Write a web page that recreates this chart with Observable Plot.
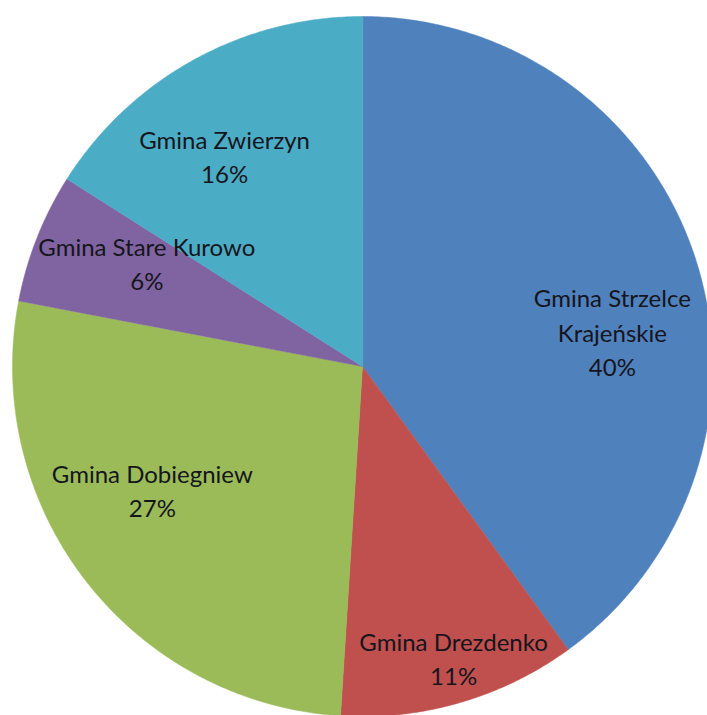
<!DOCTYPE html>
<html>
<head>
<meta charset="utf-8">
<script src="https://cdn.jsdelivr.net/npm/d3@7"></script>
<script src="https://cdn.jsdelivr.net/npm/@observablehq/plot@0.6"></script>
<style>
  html, body { margin: 0; padding: 0; background: #fff; }
  #chart { width: 707px; height: 715px; }
</style>
</head>
<body>
<div id="chart"></div>
<script>
// ---- data ----
const names = ["Gmina Strzelce Krajeńskie", "Gmina Drezdenko", "Gmina Dobiegniew", "Gmina Stare Kurowo", "Gmina Zwierzyn"];
const shares = [40, 11, 27, 6, 16];
const labelTexts = ["Gmina Strzelce\nKrajeńskie\n40%", "Gmina Drezdenko\n11%", "Gmina Dobiegniew\n27%", "Gmina Stare Kurowo\n6%", "Gmina Zwierzyn\n16%"];

// ---- style / layout ----
const colors = ["#4F81BD", "#C0504D", "#9BBB59", "#8064A2", "#4BACC6"];
const W = 707, H = 715, R = 350, CX = 362, CY = 366;
// label placement: angle shift from slice mid-angle (deg), radius fraction, pixel nudge
const labelShift = [10.5, -1, 9.5, 3.4, -4.9];
const labelRadius = [0.72, 0.88, 0.695, 0.68, 0.71];
const labelNudge = [[0, -3], [0, -3.5], [4, 7.5], [0, -4], [0, -4.5]];

// ---- build slice geometry ----
const total = d3.sum(shares);
let acc = 0;
const slices = names.map((n, i) => {
  const a0 = acc / total * 2 * Math.PI;
  acc += shares[i];
  const a1 = acc / total * 2 * Math.PI;
  return {name: n, i, a0, a1};
});
const polyPts = [];
for (const s of slices) {
  polyPts.push({name: s.name, x: 0, y: 0});
  const steps = Math.max(2, Math.ceil((s.a1 - s.a0) / (Math.PI / 360)));
  for (let k = 0; k <= steps; k++) {
    const a = s.a0 + (s.a1 - s.a0) * k / steps;
    polyPts.push({name: s.name, x: Math.sin(a), y: Math.cos(a)});
  }
}
const labels = slices.map(s => {
  const a = (s.a0 + s.a1) / 2 + labelShift[s.i] * Math.PI / 180;
  const [ndx, ndy] = labelNudge[s.i];
  return {
    text: labelTexts[s.i],
    x: labelRadius[s.i] * Math.sin(a) + ndx / R,
    y: labelRadius[s.i] * Math.cos(a) - ndy / R
  };
});

const chart = Plot.plot({
  width: W,
  height: H,
  margin: 0,
  x: {domain: [-CX / R, (W - CX) / R], axis: null},
  y: {domain: [-(H - CY) / R, CY / R], axis: null},
  color: {domain: names, range: colors},
  style: {background: "#fff"},
  marks: [
    Plot.line(polyPts, {x: "x", y: "y", z: "name", fill: "name", stroke: "name", strokeWidth: 0.5, curve: "linear-closed"}),
    Plot.text(labels, {x: "x", y: "y", text: "text", fontSize: 24, lineHeight: 1.42, lineAnchor: "middle", textAnchor: "middle", fill: "#15151c", fontFamily: "Lato, 'Open Sans', sans-serif"})
  ]
});
document.getElementById("chart").appendChild(chart);
</script>
</body>
</html>
